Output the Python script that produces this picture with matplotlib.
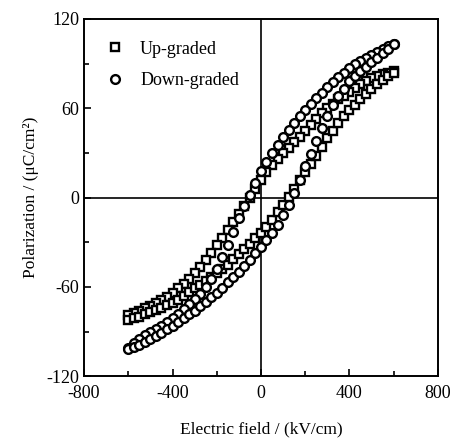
import matplotlib
matplotlib.use("Agg")
import matplotlib.pyplot as plt
from matplotlib.ticker import MultipleLocator

plt.rcParams['font.family'] = ['Liberation Serif', 'DejaVu Serif']
plt.rcParams['axes.unicode_minus'] = False

# field sweep, kV/cm (down: +600 -> -600, up: -600 -> +600)
E_down = [600, 575, 550, 525, 500, 475, 450, 425, 400, 375, 350, 325, 300,
          275, 250, 225, 200, 175, 150, 125, 100, 75, 50, 25, 0,
          -25, -50, -75, -100, -125, -150, -175, -200, -225, -250, -275, -300,
          -325, -350, -375, -400, -425, -450, -475, -500, -525, -550, -575, -600]
E_up = E_down[::-1]

# up-graded film (squares), uC/cm2
up_P_down = [85, 84, 83, 81.5, 80, 78, 76, 73.5, 71, 68.5, 66, 63, 60,
             56.5, 53, 49, 45, 41, 37, 33.5, 30, 26, 22, 17, 12,
             6, 0, -5.5, -11, -16.5, -22, -27, -32, -37, -42, -46.5, -51,
             -54.5, -58, -61, -64, -66.5, -69, -71, -73, -74.5, -76, -77.5, -79]
up_P_up = [-82, -81, -80, -78.5, -77, -75.5, -74, -72.5, -71, -68.5, -66, -63.5, -61,
           -58.5, -56, -53.5, -51, -48, -45, -41.5, -38, -34.5, -31, -27.5, -24,
           -19.5, -15, -10, -5, 0.5, 6, 11.5, 17, 22.5, 28, 34, 40,
           45, 50, 54.5, 59, 62.5, 66, 69.5, 73, 76, 79, 81.5, 84]

# down-graded film (circles), uC/cm2
dn_P_down = [103, 101.5, 100, 98, 96, 94, 92, 89.5, 87, 84, 81, 77.5, 74,
             70.5, 67, 63, 59, 54.5, 50, 45.5, 41, 35.5, 30, 24, 18,
             10, 2, -6, -14, -23, -32, -40, -48, -54.5, -60, -64.5, -68,
             -71.5, -75, -78, -81, -83.5, -86, -88, -90, -92.5, -95, -98, -101]
dn_P_up = [-102, -100.5, -99, -97, -95, -93, -91, -88.5, -86, -83.5, -81, -78.5, -76,
           -73, -70, -67, -64, -60.5, -57, -53.5, -50, -46, -42, -37.5, -33,
           -28.5, -24, -18.5, -12, -5, 3, 12, 21, 29.5, 38, 47, 55,
           62, 68, 73, 78, 81.5, 85, 88, 91, 94, 97, 100, 103]

fig = plt.figure(figsize=(4.57, 4.41), dpi=100)
ax = fig.add_axes([0.184, 0.147, 0.774, 0.810])

ax.axhline(0, color='black', lw=1.2, zorder=1)
ax.axvline(0, color='black', lw=1.2, zorder=1)

mk = dict(ls='none', mfc='white', mec='black', mew=1.7, ms=6.3, zorder=3)
ax.plot(E_down + E_up, up_P_down + up_P_up, marker='s', label='Up-graded', **mk)
ax.plot(E_down + E_up, dn_P_down + dn_P_up, marker='o', label='Down-graded', **mk)

ax.set_xlim(-800, 800)
ax.set_ylim(-120, 120)
ax.xaxis.set_major_locator(MultipleLocator(400))
ax.xaxis.set_minor_locator(MultipleLocator(200))
ax.yaxis.set_major_locator(MultipleLocator(60))
ax.yaxis.set_minor_locator(MultipleLocator(30))
ax.tick_params(which='both', direction='in', top=False, right=False,
               labelsize=13, width=1.2)
ax.tick_params(which='major', length=5)
ax.tick_params(which='minor', length=3.5)
ax.tick_params(axis='x', pad=6)
for s in ax.spines.values():
    s.set_linewidth(1.4)

ax.set_xlabel('Electric field / (kV/cm)', fontsize=12.5, labelpad=14)
ax.set_ylabel('Polarization / (\u03bcC/cm\u00b2)', fontsize=12.5, labelpad=5)

ax.legend(loc='upper left', frameon=False, fontsize=13, handlelength=1.0,
          handletextpad=0.9, labelspacing=0.8, borderaxespad=0.6,
          borderpad=0.6)

fig.savefig('out.png', dpi=100)
